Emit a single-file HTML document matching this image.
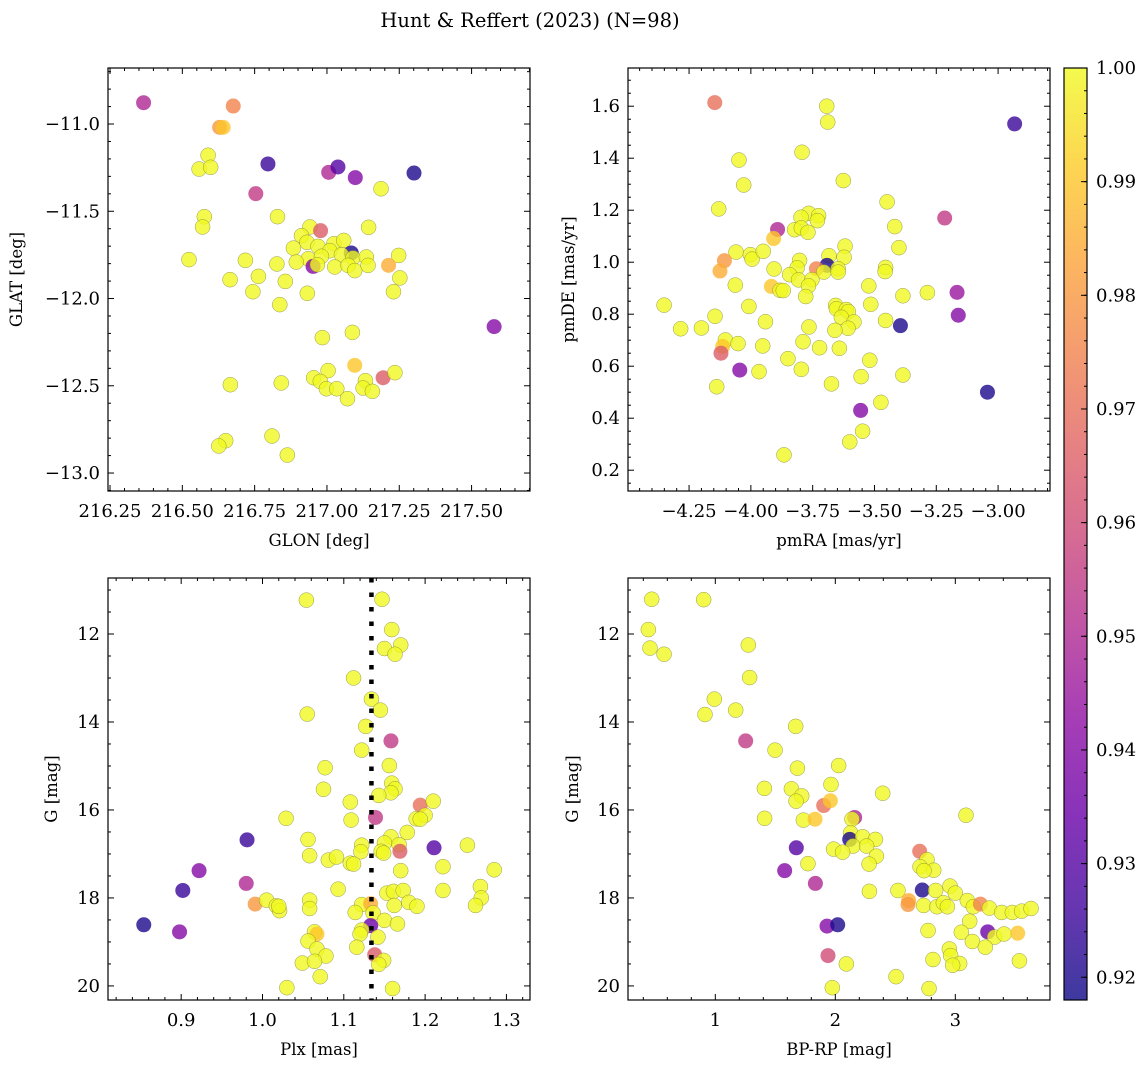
<!DOCTYPE html>
<html><head><meta charset="utf-8">
<style>
html,body{margin:0;padding:0;background:#fff;}
svg{display:block;font-family:"DejaVu Serif","Liberation Serif",serif;}
</style></head>
<body>
<svg id="fig" width="1148" height="1067" viewBox="0 0 1148 1067" xmlns="http://www.w3.org/2000/svg">
<defs>
<linearGradient id="plasmaGrad" x1="0" y1="1" x2="0" y2="0">
<stop offset="0" stop-color="#0d0887"/><stop offset="0.1" stop-color="#41049d"/><stop offset="0.2" stop-color="#6a00a8"/><stop offset="0.3" stop-color="#8f0da4"/><stop offset="0.4" stop-color="#b12a90"/><stop offset="0.5" stop-color="#cc4778"/><stop offset="0.6" stop-color="#e16462"/><stop offset="0.7" stop-color="#f2844b"/><stop offset="0.8" stop-color="#fca636"/><stop offset="0.9" stop-color="#fcce25"/><stop offset="1" stop-color="#f0f921"/>
</linearGradient>
</defs>
<text x="530" y="27" font-size="19.5" text-anchor="middle">Hunt &amp; Reffert (2023) (N=98)</text>
</svg>
<script>
// ---- Panel 1: GLON / GLAT ----
const p1Lon = [216.366,216.676,216.629,216.641,216.589,216.558,216.598,216.796,217.006,217.038,217.098,217.301,216.754,217.187,216.576,216.570,216.829,216.941,216.978,217.144,216.912,216.931,216.884,217.024,217.058,216.969,217.010,217.084,216.935,216.981,217.050,217.090,217.136,216.894,216.952,216.967,217.027,217.073,217.096,217.142,217.248,217.213,217.252,217.230,216.523,216.718,216.827,216.665,216.763,216.856,216.744,216.932,216.837,217.578,216.984,217.088,217.096,217.004,216.954,216.977,216.998,217.034,217.071,217.133,217.125,217.157,217.194,217.235,216.666,216.842,216.810,216.650,216.626,216.863];
const p1Lat = [-10.878,-10.897,-11.019,-11.019,-11.179,-11.258,-11.248,-11.229,-11.277,-11.246,-11.307,-11.281,-11.399,-11.371,-11.531,-11.590,-11.531,-11.590,-11.611,-11.592,-11.640,-11.678,-11.711,-11.686,-11.667,-11.701,-11.726,-11.739,-11.772,-11.758,-11.749,-11.768,-11.762,-11.791,-11.816,-11.806,-11.819,-11.810,-11.840,-11.810,-11.753,-11.810,-11.882,-11.961,-11.777,-11.781,-11.802,-11.892,-11.873,-11.902,-11.961,-11.970,-12.035,-12.161,-12.224,-12.194,-12.383,-12.413,-12.454,-12.475,-12.517,-12.517,-12.574,-12.471,-12.513,-12.532,-12.454,-12.425,-12.494,-12.484,-12.788,-12.815,-12.845,-12.897];
const p1Prob = [0.95,0.975,0.98,0.99,1,1,1,0.925,0.95,0.93,0.94,0.92,0.955,1,1,1,1,1,0.965,1,1,1,1,1,1,1,1,0.92,1,1,1,1,1,1,0.94,1,1,1,1,1,1,0.985,1,1,1,1,1,1,1,1,1,1,1,0.94,1,1,0.99,1,1,1,1,1,1,1,1,1,0.965,1,1,1,1,1,1,1];
// ---- Panel 2: pmRA / pmDE ----
const p2PmRA = [-4.146,-3.693,-3.689,-2.933,-3.793,-4.048,-4.029,-3.626,-4.130,-3.449,-3.216,-3.766,-3.726,-3.797,-3.731,-3.823,-3.796,-3.769,-3.892,-3.908,-3.418,-3.401,-3.619,-4.060,-4.002,-3.995,-3.950,-4.107,-4.125,-3.684,-3.623,-3.803,-3.692,-3.735,-3.647,-3.705,-3.647,-3.813,-3.906,-3.843,-3.807,-3.753,-3.767,-3.778,-3.917,-3.882,-3.869,-4.063,-3.455,-3.457,-3.523,-3.385,-3.286,-3.166,-3.161,-4.351,-4.008,-4.145,-4.284,-4.200,-3.941,-3.657,-3.654,-3.614,-3.606,-3.634,-3.583,-3.607,-3.660,-3.765,-3.515,-3.455,-3.395,-4.103,-4.114,-4.121,-4.052,-3.952,-3.789,-3.722,-3.642,-3.850,-3.796,-3.967,-4.045,-4.138,-3.519,-3.554,-3.385,-3.674,-3.043,-3.474,-3.556,-3.548,-3.600,-3.866];
const p2PmDE = [1.614,1.600,1.539,1.532,1.423,1.393,1.297,1.314,1.205,1.232,1.170,1.188,1.179,1.173,1.160,1.125,1.132,1.115,1.126,1.091,1.137,1.056,1.062,1.039,1.029,1.012,1.042,1.006,0.966,1.025,1.019,1.007,0.988,0.975,0.975,0.962,0.962,0.978,0.974,0.952,0.932,0.933,0.909,0.868,0.907,0.892,0.891,0.912,0.980,0.964,0.909,0.871,0.883,0.884,0.796,0.835,0.830,0.792,0.744,0.747,0.771,0.834,0.821,0.818,0.810,0.788,0.770,0.746,0.738,0.751,0.838,0.776,0.756,0.701,0.676,0.650,0.687,0.678,0.694,0.671,0.669,0.629,0.588,0.579,0.585,0.521,0.623,0.560,0.566,0.532,0.500,0.461,0.430,0.350,0.309,0.259];
const p2Prob = [0.97,1,1,0.925,1,1,1,1,1,1, 0.955,1,1,1,1,1,1,1,0.95,0.99, 1,1,1,1,1,1,1,0.98,0.985,1, 1,1,0.92,0.975,1,1,1,1,1,1, 1,1,1,1,0.99,1,1,1,1,1, 1,1,1,0.945,0.94,1,1,1,1,1, 1,1,1,1,1,1,1,1,1,1, 1,1,0.92,1,0.99,0.965,1,1,1,1, 1,1,1,1,0.94,1,1,1,1,1, 0.92,1,0.94,1,1,1];
// ---- Panel 3: Plx / G ----
const p3Plx = [1.054,1.147,1.159,1.150,1.170,1.163,1.112,1.134,1.145,1.055,1.127,1.158,1.122,1.077,1.156,1.159,1.163,1.158,1.143,1.075,1.108,1.194,1.210,1.029,1.109,1.139,1.189,1.200,1.194,0.981,1.056,1.058,1.178,1.158,1.150,1.168,1.122,1.121,1.146,1.149,1.169,1.211,1.252,1.081,1.091,1.108,1.112,1.170,1.222,1.285,0.922,0.902,0.980,1.093,1.153,1.161,1.173,1.222,1.268,1.269,1.262,0.991,1.005,1.017,1.021,1.020,1.058,1.058,1.122,1.133,1.114,1.136,1.162,1.180,1.190,1.150,1.166,0.854,0.898,1.133,1.064,1.067,1.122,1.120,1.142,1.056,1.067,1.078,1.116,1.138,1.149,1.143,1.049,1.064,1.071,1.030,1.160];
const p3G = [11.23,11.21,11.90,12.33,12.25,12.46,13.00,13.48,13.73,13.82,14.10,14.43,14.64,15.04,14.99,15.39,15.52,15.61,15.67,15.53,15.82,15.89,15.80,16.19,16.23,16.17,16.20,16.12,16.21,16.68,16.67,17.04,16.51,16.61,16.75,16.79,16.80,16.95,16.94,16.98,16.94,16.86,16.80,17.14,17.07,17.21,17.23,17.38,17.29,17.36,17.38,17.83,17.67,17.80,17.89,17.85,17.83,17.83,17.74,18.00,18.17,18.14,18.05,18.18,18.29,18.19,18.05,18.24,18.15,18.13,18.33,18.34,18.17,18.10,18.19,18.51,18.59,18.61,18.77,18.63,18.77,18.82,18.73,18.82,18.89,18.98,19.16,19.32,19.12,19.29,19.42,19.51,19.48,19.44,19.79,20.04,20.06];
const p3Prob = [1,1,1,1,1,1,1,1,1,1, 1,0.955,1,1,1,1,1,1,1,1, 1,0.97,1,1,1,0.955,1,1,1,0.925, 1,1,1,1,1,1,1,1,1,1, 0.965,0.93,1,1,1,1,1,1,1,1, 0.94,0.925,0.95,1,1,1,1,1,1,1, 1,0.98,1,1,1,1,1,1,1,0.985, 1,1,1,1,1,1,1,0.92,0.94,0.935, 1,0.99,1,1,1,1,1,1,1,0.965, 1,1,1,1,1,1,1];
const p3PlxLine = [1.134];
// ---- Panel 4: BP-RP / G ----
const p4BpRp = [0.470,0.903,0.442,0.456,0.573,1.275,1.286,0.992,0.914,1.170, 1.670,1.253,1.498,2.028,1.684,1.409,1.964,1.634,1.720,1.673, 2.395,1.903,1.959,3.089,1.411,1.734,1.831,2.161,2.139,2.128, 2.120,2.228,2.334,2.148,2.261,2.342,2.281,1.986,2.061,1.675, 1.772,1.578,1.834,2.703,2.764,2.706,2.820,2.739,2.284,2.522, 2.725,2.836,2.956,3.000,2.611,2.606,2.736,2.847,2.900,2.934, 3.100,3.150,3.209,3.284,3.386,3.475,3.553,3.631,3.120,3.050, 3.270,3.328,3.406,3.520,2.773,3.142,3.250,2.950,2.961,3.036, 2.978,2.814,3.534,1.931,2.020,1.939,2.092,2.506,1.975,2.781];
const p4G = [11.21,11.22,11.90,12.32,12.46,12.25,12.99,13.48,13.83,13.73, 14.10,14.43,14.64,14.99,15.05,15.51,15.42,15.52,15.68,15.80, 15.62,15.90,15.79,16.12,16.19,16.23,16.21,16.17,16.21,16.52, 16.67,16.61,16.67,16.82,16.82,17.05,17.23,16.89,16.96,16.86, 17.22,17.38,17.67,16.94,17.13,17.29,17.37,17.38,17.85,17.83, 17.82,17.83,17.73,17.89,18.06,18.15,18.17,18.20,18.11,18.20, 18.06,18.20,18.14,18.23,18.33,18.33,18.30,18.24,18.53,18.78, 18.77,18.89,18.82,18.80,18.74,18.99,19.12,19.16,19.31,19.49, 19.53,19.40,19.43,18.64,18.61,19.31,19.50,19.79,20.04,20.06];
const p4Prob = [1,1,1,1,1,1,1,1,1,1, 1,0.955,1,1,1,1,1,1,1,1, 1,0.97,0.99,1,1,1,0.99,0.95,1,1, 0.92,1,1,1,1,1,1,1,1,0.93, 1,0.94,0.95,0.97,1,1,1,1,1,1, 0.92,1,1,1,0.985,0.98,1,1,1,1, 1,1,0.975,1,1,1,1,1,1,1, 0.935,1,1,0.99,1,1,1,1,1,1, 1,1,1,0.94,0.92,0.96,1,1,1,1];
// ---- Colorbar ----
const cbarTicks = [0.92,0.93,0.94,0.95,0.96,0.97,0.98,0.99,1.00];
const cbarMin = 0.918, cbarMax = 1.0;

const NS = "http://www.w3.org/2000/svg";
const svg = document.getElementById('fig');
function mk(tag, attrs, parent){
  const e = document.createElementNS(NS, tag);
  for (const k in attrs) e.setAttribute(k, attrs[k]);
  (parent||svg).appendChild(e);
  return e;
}
const stops = ["#0d0887","#41049d","#6a00a8","#8f0da4","#b12a90","#cc4778","#e16462","#f2844b","#fca636","#fcce25","#f0f921"];
function hex2rgb(h){return [parseInt(h.substr(1,2),16),parseInt(h.substr(3,2),16),parseInt(h.substr(5,2),16)];}
function plasma(t){
  t = Math.max(0, Math.min(1, t));
  const s = t*10, i = Math.min(9, Math.floor(s)), f = s - i;
  const a = hex2rgb(stops[i]), b = hex2rgb(stops[i+1]);
  return 'rgb(' + a.map((v,j)=>Math.round(v+(b[j]-v)*f)).join(',') + ')';
}
function fmt(v, d){ const s = Math.abs(v).toFixed(d); return (v < -1e-9 ? '\u2212' : '') + s; }

const TICKFS = 18, LABFS = 16.5;

function panel(cfg){
  const g = mk('g', {});
  
  
  const {L,T,R,B} = cfg;
  const sx = v => L + (v - cfg.x0) / (cfg.x1 - cfg.x0) * (R - L);
  const sy = v => T + (v - cfg.y0) / (cfg.y1 - cfg.y0) * (B - T);
  const pts = mk('g', {}, g);
  
  
  for (let i = 0; i < cfg.xs.length; i++){
    const c = mk('circle', {cx: sx(cfg.xs[i]), cy: sy(cfg.ys[i]), r: 7.5,
      fill: plasma((cfg.ps[i]-cbarMin)/(cbarMax-cbarMin)), 'fill-opacity': 0.8,
      stroke: cfg.ps[i] >= 0.995 ? '#6f6f3a' : 'none', 'stroke-width': 0.5, 'stroke-opacity': 0.7}, pts);
    
    
  }
  if (cfg.after) cfg.after(g, sx, sy);
  const tk = mk('g', {stroke: '#000', 'stroke-width': 1}, g);
  
  
  const xlo = Math.min(cfg.x0,cfg.x1), xhi = Math.max(cfg.x0,cfg.x1);
  const ylo = Math.min(cfg.y0,cfg.y1), yhi = Math.max(cfg.y0,cfg.y1);
  for (let k = Math.ceil(xlo/cfg.xmin - 1e-6); k*cfg.xmin <= xhi + 1e-9; k++){
    const v = k*cfg.xmin; const x = sx(v);
    const major = Math.abs(v/cfg.xmaj - Math.round(v/cfg.xmaj)) < 1e-6;
    const len = major ? 6 : 3;
    mk('line', {x1:x, y1:B, x2:x, y2:B-len}, tk);
    mk('line', {x1:x, y1:T, x2:x, y2:T+len}, tk);
    if (major){
      const t = mk('text', {x:x, y:B+26, 'font-size':TICKFS, 'text-anchor':'middle', stroke:'none', fill:'#000'}, g);
      t.textContent = fmt(v, cfg.xdec);
      
      
    }
  }
  for (let k = Math.ceil(ylo/cfg.ymin - 1e-6); k*cfg.ymin <= yhi + 1e-9; k++){
    const v = k*cfg.ymin; const y = sy(v);
    const major = Math.abs(v/cfg.ymaj - Math.round(v/cfg.ymaj)) < 1e-6;
    const len = major ? 6 : 3;
    mk('line', {x1:L, y1:y, x2:L+len, y2:y}, tk);
    mk('line', {x1:R, y1:y, x2:R-len, y2:y}, tk);
    if (major){
      const t = mk('text', {x:L-8, y:y+6, 'font-size':TICKFS, 'text-anchor':'end', stroke:'none', fill:'#000'}, g);
      t.textContent = fmt(v, cfg.ydec);
      
      
    }
  }
  const fr = mk('rect', {x:L, y:T, width:R-L, height:B-T, fill:'none', stroke:'#000', 'stroke-width':1.2}, g);
  
  
  const xl = mk('text', {x:(L+R)/2, y:B+55, 'font-size':LABFS, 'text-anchor':'middle'}, g);
  xl.textContent = cfg.xlabel;
  
  
  const yx = cfg.ylabx, ymid = (T+B)/2;
  const yl = mk('text', {x:yx, y:ymid, 'font-size':LABFS, 'text-anchor':'middle', transform:'rotate(-90 '+yx+' '+ymid+')'}, g);
  yl.textContent = cfg.ylabel;
  
  
}

panel({name:'glon-glat-panel', L:108,T:68,R:530,B:491, x0:216.243, x1:217.702, y0:-10.679, y1:-13.103,
  xmaj:0.25, xmin:0.05, ymaj:0.5, ymin:0.1, xdec:2, ydec:1, xs:p1Lon, ys:p1Lat, ps:p1Prob,
  xlabel:'GLON [deg]', ylabel:'GLAT [deg]', ylabx:22});
panel({name:'pm-panel', L:628,T:68,R:1050,B:491, x0:-4.497, x1:-2.790, y0:1.747, y1:0.120,
  xmaj:0.25, xmin:0.05, ymaj:0.2, ymin:0.05, xdec:2, ydec:1, xs:p2PmRA, ys:p2PmDE, ps:p2Prob,
  xlabel:'pmRA [mas/yr]', ylabel:'pmDE [mas/yr]', ylabx:574});
panel({name:'plx-g-panel', L:108,T:578,R:530,B:1000, x0:0.81, x1:1.329, y0:10.727, y1:20.32,
  xmaj:0.1, xmin:0.02, ymaj:2, ymin:0.5, xdec:1, ydec:0, xs:p3Plx, ys:p3G, ps:p3Prob,
  xlabel:'Plx [mas]', ylabel:'G [mag]', ylabx:57,
  after:(g,sx,sy)=>{
    for (const v of p3PlxLine){
      const l = mk('line', {x1:sx(v), y1:578, x2:sx(v), y2:1000, stroke:'#000', 'stroke-width':4.5, 'stroke-dasharray':'4.5,10'}, g);
      
      
    }
  }});
panel({name:'cmd-panel', L:628,T:578,R:1050,B:1000, x0:0.2725, x1:3.789, y0:10.727, y1:20.32,
  xmaj:1, xmin:0.2, ymaj:2, ymin:0.5, xdec:0, ydec:0, xs:p4BpRp, ys:p4G, ps:p4Prob,
  xlabel:'BP-RP [mag]', ylabel:'G [mag]', ylabx:578});

// colorbar
const cb = mk('g', {});


const cbL = 1064, cbR = 1087, cbT = 68, cbB = 1000;
mk('rect', {x:cbL, y:cbT, width:cbR-cbL, height:cbB-cbT, fill:'url(#plasmaGrad)', 'fill-opacity':0.8}, cb);
mk('rect', {x:cbL, y:cbT, width:cbR-cbL, height:cbB-cbT, fill:'none', stroke:'#000', 'stroke-width':1.2}, cb);
const cbY = v => cbB - (v - cbarMin)/(cbarMax - cbarMin)*(cbB - cbT);
for (let k = Math.ceil(cbarMin/0.002 - 1e-6); k*0.002 <= cbarMax + 1e-9; k++){
  const y = cbY(k*0.002);
  mk('line', {x1:cbR, y1:y, x2:cbR-3, y2:y, stroke:'#000', 'stroke-width':1}, cb);
}
for (const v of cbarTicks){
  const y = cbY(v);
  mk('line', {x1:cbR, y1:y, x2:cbR-6, y2:y, stroke:'#000', 'stroke-width':1}, cb);
  const t = mk('text', {x:cbR+9, y:y+6, 'font-size':TICKFS}, cb);
  t.textContent = v.toFixed(2);
  
  
}
</script>
</body></html>
